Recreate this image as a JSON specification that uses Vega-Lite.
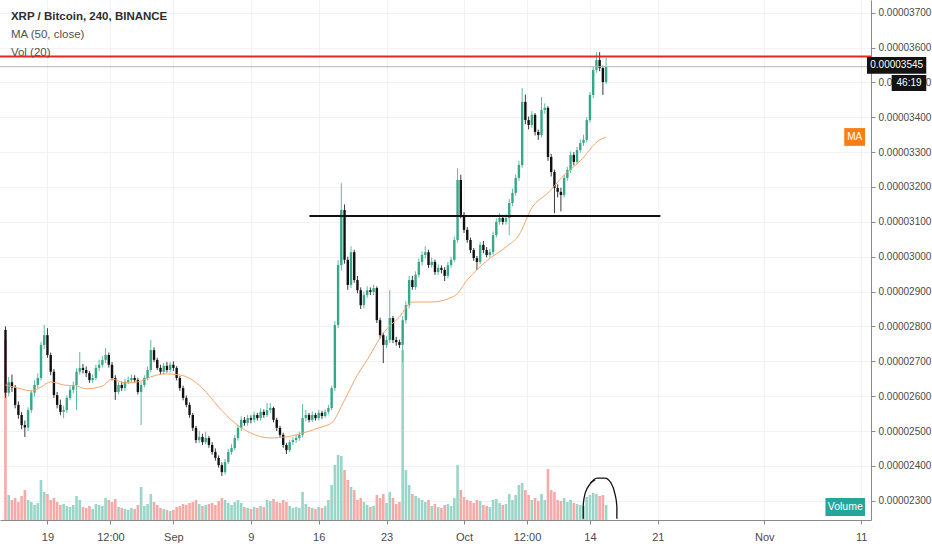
{
  "$schema": "https://vega.github.io/schema/vega-lite/v6.json",
  "description": "XRP / Bitcoin, 240, BINANCE",
  "width": 871,
  "height": 520,
  "autosize": {"type": "none"},
  "padding": {"left": 0, "top": 0, "right": 61, "bottom": 30},
  "background": "#ffffff",
  "config": {
    "view": {"stroke": null},
    "axis": {
      "labelFont": "Liberation Sans, Arial, sans-serif",
      "labelFontSize": 10,
      "labelColor": "#4a4a4a",
      "domainColor": "#8a8a8a",
      "tickColor": "#8a8a8a",
      "tickSize": 4,
      "gridColor": "#f1f2f4",
      "labelOverlap": false,
      "labelFlush": false
    },
    "text": {"font": "Liberation Sans, Arial, sans-serif"}
  },
  "data": {
    "values": [
      {"t":"2019-08-14T16:00Z","o":2790,"h":2800,"l":2595,"c":2610,"v":1800},
      {"t":"2019-08-15T00:00Z","o":2610,"h":2655,"l":2600,"c":2640,"v":250},
      {"t":"2019-08-15T08:00Z","o":2640,"h":2662,"l":2612,"c":2625,"v":200},
      {"t":"2019-08-15T16:00Z","o":2625,"h":2632,"l":2565,"c":2575,"v":220},
      {"t":"2019-08-16T00:00Z","o":2575,"h":2585,"l":2535,"c":2546,"v":180},
      {"t":"2019-08-16T08:00Z","o":2546,"h":2555,"l":2505,"c":2517,"v":240},
      {"t":"2019-08-16T16:00Z","o":2517,"h":2530,"l":2483,"c":2510,"v":300},
      {"t":"2019-08-17T00:00Z","o":2510,"h":2568,"l":2500,"c":2560,"v":200},
      {"t":"2019-08-17T08:00Z","o":2560,"h":2618,"l":2552,"c":2610,"v":180},
      {"t":"2019-08-17T16:00Z","o":2610,"h":2645,"l":2600,"c":2632,"v":150},
      {"t":"2019-08-18T00:00Z","o":2632,"h":2665,"l":2622,"c":2652,"v":170},
      {"t":"2019-08-18T08:00Z","o":2652,"h":2755,"l":2645,"c":2747,"v":400},
      {"t":"2019-08-18T16:00Z","o":2747,"h":2804,"l":2735,"c":2775,"v":280},
      {"t":"2019-08-19T00:00Z","o":2775,"h":2795,"l":2710,"c":2718,"v":260},
      {"t":"2019-08-19T08:00Z","o":2718,"h":2725,"l":2660,"c":2670,"v":200},
      {"t":"2019-08-19T16:00Z","o":2670,"h":2678,"l":2595,"c":2603,"v":220},
      {"t":"2019-08-20T00:00Z","o":2603,"h":2612,"l":2565,"c":2575,"v":180},
      {"t":"2019-08-20T08:00Z","o":2575,"h":2590,"l":2545,"c":2555,"v":150},
      {"t":"2019-08-20T16:00Z","o":2555,"h":2572,"l":2537,"c":2560,"v":160},
      {"t":"2019-08-21T00:00Z","o":2560,"h":2602,"l":2552,"c":2595,"v":140},
      {"t":"2019-08-21T08:00Z","o":2595,"h":2628,"l":2588,"c":2618,"v":130},
      {"t":"2019-08-21T16:00Z","o":2618,"h":2642,"l":2608,"c":2632,"v":150},
      {"t":"2019-08-22T00:00Z","o":2632,"h":2680,"l":2560,"c":2670,"v":240},
      {"t":"2019-08-22T08:00Z","o":2670,"h":2727,"l":2662,"c":2681,"v":200},
      {"t":"2019-08-22T16:00Z","o":2681,"h":2692,"l":2665,"c":2675,"v":130},
      {"t":"2019-08-23T00:00Z","o":2675,"h":2685,"l":2655,"c":2666,"v":120},
      {"t":"2019-08-23T08:00Z","o":2666,"h":2672,"l":2638,"c":2646,"v":140},
      {"t":"2019-08-23T16:00Z","o":2646,"h":2662,"l":2638,"c":2652,"v":110},
      {"t":"2019-08-24T00:00Z","o":2652,"h":2690,"l":2645,"c":2681,"v":160},
      {"t":"2019-08-24T08:00Z","o":2681,"h":2705,"l":2672,"c":2690,"v":150},
      {"t":"2019-08-24T16:00Z","o":2690,"h":2715,"l":2682,"c":2704,"v":140},
      {"t":"2019-08-25T00:00Z","o":2704,"h":2738,"l":2695,"c":2718,"v":220},
      {"t":"2019-08-25T08:00Z","o":2718,"h":2725,"l":2682,"c":2690,"v":200},
      {"t":"2019-08-25T16:00Z","o":2690,"h":2698,"l":2645,"c":2652,"v":180},
      {"t":"2019-08-26T00:00Z","o":2652,"h":2660,"l":2589,"c":2612,"v":210},
      {"t":"2019-08-26T08:00Z","o":2612,"h":2640,"l":2605,"c":2632,"v":130},
      {"t":"2019-08-26T16:00Z","o":2632,"h":2642,"l":2615,"c":2623,"v":120},
      {"t":"2019-08-27T00:00Z","o":2623,"h":2650,"l":2615,"c":2641,"v":110},
      {"t":"2019-08-27T08:00Z","o":2641,"h":2656,"l":2635,"c":2646,"v":100},
      {"t":"2019-08-27T16:00Z","o":2646,"h":2662,"l":2640,"c":2652,"v":120},
      {"t":"2019-08-28T00:00Z","o":2652,"h":2660,"l":2638,"c":2646,"v":110},
      {"t":"2019-08-28T08:00Z","o":2646,"h":2652,"l":2605,"c":2612,"v":150},
      {"t":"2019-08-28T16:00Z","o":2612,"h":2640,"l":2517,"c":2632,"v":330},
      {"t":"2019-08-29T00:00Z","o":2632,"h":2660,"l":2625,"c":2652,"v":140},
      {"t":"2019-08-29T08:00Z","o":2652,"h":2685,"l":2645,"c":2675,"v":160},
      {"t":"2019-08-29T16:00Z","o":2675,"h":2761,"l":2668,"c":2732,"v":260},
      {"t":"2019-08-30T00:00Z","o":2732,"h":2740,"l":2698,"c":2704,"v":180},
      {"t":"2019-08-30T08:00Z","o":2704,"h":2710,"l":2675,"c":2681,"v":150},
      {"t":"2019-08-30T16:00Z","o":2681,"h":2690,"l":2662,"c":2670,"v":120},
      {"t":"2019-08-31T00:00Z","o":2670,"h":2695,"l":2662,"c":2687,"v":110},
      {"t":"2019-08-31T08:00Z","o":2687,"h":2698,"l":2668,"c":2675,"v":100},
      {"t":"2019-08-31T16:00Z","o":2675,"h":2698,"l":2668,"c":2690,"v":90},
      {"t":"2019-09-01T00:00Z","o":2690,"h":2700,"l":2672,"c":2681,"v":100},
      {"t":"2019-09-01T08:00Z","o":2681,"h":2686,"l":2645,"c":2652,"v":130},
      {"t":"2019-09-01T16:00Z","o":2652,"h":2658,"l":2615,"c":2623,"v":140},
      {"t":"2019-09-02T00:00Z","o":2623,"h":2630,"l":2588,"c":2595,"v":160},
      {"t":"2019-09-02T08:00Z","o":2595,"h":2602,"l":2568,"c":2575,"v":150},
      {"t":"2019-09-02T16:00Z","o":2575,"h":2582,"l":2538,"c":2546,"v":170},
      {"t":"2019-09-03T00:00Z","o":2546,"h":2552,"l":2500,"c":2509,"v":180},
      {"t":"2019-09-03T08:00Z","o":2509,"h":2515,"l":2465,"c":2474,"v":200},
      {"t":"2019-09-03T16:00Z","o":2474,"h":2500,"l":2466,"c":2483,"v":160},
      {"t":"2019-09-04T00:00Z","o":2483,"h":2492,"l":2460,"c":2468,"v":140},
      {"t":"2019-09-04T08:00Z","o":2468,"h":2498,"l":2462,"c":2480,"v":150},
      {"t":"2019-09-04T16:00Z","o":2480,"h":2486,"l":2452,"c":2460,"v":160},
      {"t":"2019-09-05T00:00Z","o":2460,"h":2468,"l":2432,"c":2440,"v":170},
      {"t":"2019-09-05T08:00Z","o":2440,"h":2450,"l":2415,"c":2423,"v":150},
      {"t":"2019-09-05T16:00Z","o":2423,"h":2430,"l":2395,"c":2402,"v":190},
      {"t":"2019-09-06T00:00Z","o":2402,"h":2410,"l":2371,"c":2382,"v":220},
      {"t":"2019-09-06T08:00Z","o":2382,"h":2420,"l":2375,"c":2411,"v":200},
      {"t":"2019-09-06T16:00Z","o":2411,"h":2448,"l":2405,"c":2440,"v":170},
      {"t":"2019-09-07T00:00Z","o":2440,"h":2462,"l":2432,"c":2451,"v":150},
      {"t":"2019-09-07T08:00Z","o":2451,"h":2488,"l":2445,"c":2480,"v":180},
      {"t":"2019-09-07T16:00Z","o":2480,"h":2518,"l":2472,"c":2509,"v":200},
      {"t":"2019-09-08T00:00Z","o":2509,"h":2542,"l":2500,"c":2532,"v":170},
      {"t":"2019-09-08T08:00Z","o":2532,"h":2540,"l":2515,"c":2523,"v":130},
      {"t":"2019-09-08T16:00Z","o":2523,"h":2546,"l":2515,"c":2537,"v":120},
      {"t":"2019-09-09T00:00Z","o":2537,"h":2545,"l":2522,"c":2532,"v":110},
      {"t":"2019-09-09T08:00Z","o":2532,"h":2556,"l":2525,"c":2546,"v":130},
      {"t":"2019-09-09T16:00Z","o":2546,"h":2552,"l":2530,"c":2537,"v":120},
      {"t":"2019-09-10T00:00Z","o":2537,"h":2565,"l":2530,"c":2555,"v":140},
      {"t":"2019-09-10T08:00Z","o":2555,"h":2562,"l":2538,"c":2546,"v":130},
      {"t":"2019-09-10T16:00Z","o":2546,"h":2580,"l":2540,"c":2560,"v":200},
      {"t":"2019-09-11T00:00Z","o":2560,"h":2580,"l":2552,"c":2566,"v":190},
      {"t":"2019-09-11T08:00Z","o":2566,"h":2570,"l":2525,"c":2532,"v":210},
      {"t":"2019-09-11T16:00Z","o":2532,"h":2538,"l":2500,"c":2509,"v":180},
      {"t":"2019-09-12T00:00Z","o":2509,"h":2515,"l":2480,"c":2489,"v":170},
      {"t":"2019-09-12T08:00Z","o":2489,"h":2495,"l":2452,"c":2460,"v":200},
      {"t":"2019-09-12T16:00Z","o":2460,"h":2466,"l":2434,"c":2445,"v":180},
      {"t":"2019-09-13T00:00Z","o":2445,"h":2475,"l":2440,"c":2468,"v":140},
      {"t":"2019-09-13T08:00Z","o":2468,"h":2482,"l":2460,"c":2474,"v":120},
      {"t":"2019-09-13T16:00Z","o":2474,"h":2490,"l":2466,"c":2480,"v":130},
      {"t":"2019-09-14T00:00Z","o":2480,"h":2498,"l":2472,"c":2489,"v":120},
      {"t":"2019-09-14T08:00Z","o":2489,"h":2577,"l":2482,"c":2537,"v":280},
      {"t":"2019-09-14T16:00Z","o":2537,"h":2560,"l":2528,"c":2546,"v":160},
      {"t":"2019-09-15T00:00Z","o":2546,"h":2552,"l":2525,"c":2532,"v":130},
      {"t":"2019-09-15T08:00Z","o":2532,"h":2556,"l":2525,"c":2546,"v":120},
      {"t":"2019-09-15T16:00Z","o":2546,"h":2552,"l":2530,"c":2537,"v":110},
      {"t":"2019-09-16T00:00Z","o":2537,"h":2560,"l":2530,"c":2552,"v":130},
      {"t":"2019-09-16T08:00Z","o":2552,"h":2558,"l":2535,"c":2543,"v":120},
      {"t":"2019-09-16T16:00Z","o":2543,"h":2562,"l":2538,"c":2555,"v":140},
      {"t":"2019-09-17T00:00Z","o":2555,"h":2575,"l":2548,"c":2566,"v":200},
      {"t":"2019-09-17T08:00Z","o":2566,"h":2630,"l":2560,"c":2623,"v":350},
      {"t":"2019-09-17T16:00Z","o":2623,"h":2815,"l":2615,"c":2804,"v":550},
      {"t":"2019-09-18T00:00Z","o":2804,"h":2990,"l":2795,"c":2976,"v":650},
      {"t":"2019-09-18T08:00Z","o":2976,"h":3211,"l":2960,"c":3134,"v":640},
      {"t":"2019-09-18T16:00Z","o":3134,"h":3150,"l":2980,"c":2991,"v":500},
      {"t":"2019-09-19T00:00Z","o":2991,"h":3000,"l":2905,"c":2919,"v":400},
      {"t":"2019-09-19T08:00Z","o":2919,"h":3030,"l":2910,"c":3013,"v":330},
      {"t":"2019-09-19T16:00Z","o":3013,"h":3020,"l":2925,"c":2933,"v":300},
      {"t":"2019-09-20T00:00Z","o":2933,"h":2945,"l":2895,"c":2904,"v":200},
      {"t":"2019-09-20T08:00Z","o":2904,"h":2912,"l":2850,"c":2861,"v":220},
      {"t":"2019-09-20T16:00Z","o":2861,"h":2900,"l":2852,"c":2890,"v":180},
      {"t":"2019-09-21T00:00Z","o":2890,"h":2915,"l":2882,"c":2904,"v":150},
      {"t":"2019-09-21T08:00Z","o":2904,"h":2912,"l":2890,"c":2899,"v":130},
      {"t":"2019-09-21T16:00Z","o":2899,"h":2920,"l":2890,"c":2910,"v":140},
      {"t":"2019-09-22T00:00Z","o":2910,"h":2915,"l":2810,"c":2818,"v":250},
      {"t":"2019-09-22T08:00Z","o":2818,"h":2825,"l":2765,"c":2775,"v":220},
      {"t":"2019-09-22T16:00Z","o":2775,"h":2782,"l":2695,"c":2747,"v":260},
      {"t":"2019-09-23T00:00Z","o":2747,"h":2772,"l":2738,"c":2761,"v":170},
      {"t":"2019-09-23T08:00Z","o":2761,"h":2904,"l":2752,"c":2824,"v":280},
      {"t":"2019-09-23T16:00Z","o":2824,"h":2830,"l":2752,"c":2761,"v":220},
      {"t":"2019-09-24T00:00Z","o":2761,"h":2770,"l":2745,"c":2755,"v":160},
      {"t":"2019-09-24T08:00Z","o":2755,"h":2762,"l":2738,"c":2747,"v":180},
      {"t":"2019-09-24T16:00Z","o":2747,"h":2830,"l":2698,"c":2818,"v":1700},
      {"t":"2019-09-25T00:00Z","o":2818,"h":2872,"l":2808,"c":2861,"v":500},
      {"t":"2019-09-25T08:00Z","o":2861,"h":2945,"l":2852,"c":2933,"v":350},
      {"t":"2019-09-25T16:00Z","o":2933,"h":2945,"l":2905,"c":2913,"v":260},
      {"t":"2019-09-26T00:00Z","o":2913,"h":2958,"l":2905,"c":2948,"v":240},
      {"t":"2019-09-26T08:00Z","o":2948,"h":2995,"l":2940,"c":2985,"v":220},
      {"t":"2019-09-26T16:00Z","o":2985,"h":3015,"l":2975,"c":3005,"v":200},
      {"t":"2019-09-27T00:00Z","o":3005,"h":3030,"l":2995,"c":3013,"v":180},
      {"t":"2019-09-27T08:00Z","o":3013,"h":3020,"l":2968,"c":2976,"v":200},
      {"t":"2019-09-27T16:00Z","o":2976,"h":2998,"l":2968,"c":2985,"v":140},
      {"t":"2019-09-28T00:00Z","o":2985,"h":2992,"l":2948,"c":2956,"v":160},
      {"t":"2019-09-28T08:00Z","o":2956,"h":2978,"l":2948,"c":2968,"v":130},
      {"t":"2019-09-28T16:00Z","o":2968,"h":2975,"l":2952,"c":2962,"v":120},
      {"t":"2019-09-29T00:00Z","o":2962,"h":2970,"l":2930,"c":2945,"v":150},
      {"t":"2019-09-29T08:00Z","o":2945,"h":2985,"l":2938,"c":2976,"v":160},
      {"t":"2019-09-29T16:00Z","o":2976,"h":3000,"l":2968,"c":2991,"v":140},
      {"t":"2019-09-30T00:00Z","o":2991,"h":3058,"l":2985,"c":3048,"v":220},
      {"t":"2019-09-30T08:00Z","o":3048,"h":3254,"l":3040,"c":3220,"v":550},
      {"t":"2019-09-30T16:00Z","o":3220,"h":3235,"l":3110,"c":3120,"v":300},
      {"t":"2019-10-01T00:00Z","o":3120,"h":3128,"l":3068,"c":3077,"v":230},
      {"t":"2019-10-01T08:00Z","o":3077,"h":3085,"l":3040,"c":3048,"v":200},
      {"t":"2019-10-01T16:00Z","o":3048,"h":3055,"l":3010,"c":3019,"v":190},
      {"t":"2019-10-02T00:00Z","o":3019,"h":3025,"l":2988,"c":2996,"v":170},
      {"t":"2019-10-02T08:00Z","o":2996,"h":3002,"l":2962,"c":2985,"v":200},
      {"t":"2019-10-02T16:00Z","o":2985,"h":3042,"l":2978,"c":3034,"v":190},
      {"t":"2019-10-03T00:00Z","o":3034,"h":3045,"l":3010,"c":3019,"v":150},
      {"t":"2019-10-03T08:00Z","o":3019,"h":3028,"l":2998,"c":3005,"v":140},
      {"t":"2019-10-03T16:00Z","o":3005,"h":3022,"l":2998,"c":3013,"v":130},
      {"t":"2019-10-04T00:00Z","o":3013,"h":3072,"l":3005,"c":3062,"v":200},
      {"t":"2019-10-04T08:00Z","o":3062,"h":3110,"l":3055,"c":3100,"v":210},
      {"t":"2019-10-04T16:00Z","o":3100,"h":3125,"l":3092,"c":3111,"v":170},
      {"t":"2019-10-05T00:00Z","o":3111,"h":3120,"l":3092,"c":3100,"v":150},
      {"t":"2019-10-05T08:00Z","o":3100,"h":3122,"l":3092,"c":3111,"v":160},
      {"t":"2019-10-05T16:00Z","o":3111,"h":3165,"l":3062,"c":3154,"v":260},
      {"t":"2019-10-06T00:00Z","o":3154,"h":3195,"l":3145,"c":3183,"v":200},
      {"t":"2019-10-06T08:00Z","o":3183,"h":3236,"l":3175,"c":3226,"v":250},
      {"t":"2019-10-06T16:00Z","o":3226,"h":3275,"l":3218,"c":3263,"v":350},
      {"t":"2019-10-07T00:00Z","o":3263,"h":3484,"l":3255,"c":3444,"v":370},
      {"t":"2019-10-07T08:00Z","o":3444,"h":3465,"l":3380,"c":3392,"v":300},
      {"t":"2019-10-07T16:00Z","o":3392,"h":3402,"l":3365,"c":3378,"v":250},
      {"t":"2019-10-08T00:00Z","o":3378,"h":3418,"l":3370,"c":3407,"v":200},
      {"t":"2019-10-08T08:00Z","o":3407,"h":3412,"l":3348,"c":3358,"v":220},
      {"t":"2019-10-08T16:00Z","o":3358,"h":3365,"l":3335,"c":3349,"v":190},
      {"t":"2019-10-09T00:00Z","o":3349,"h":3458,"l":3342,"c":3421,"v":260},
      {"t":"2019-10-09T08:00Z","o":3421,"h":3440,"l":3410,"c":3427,"v":200},
      {"t":"2019-10-09T16:00Z","o":3427,"h":3432,"l":3275,"c":3286,"v":510},
      {"t":"2019-10-10T00:00Z","o":3286,"h":3295,"l":3230,"c":3243,"v":300},
      {"t":"2019-10-10T08:00Z","o":3243,"h":3250,"l":3125,"c":3197,"v":280},
      {"t":"2019-10-10T16:00Z","o":3197,"h":3208,"l":3170,"c":3186,"v":200},
      {"t":"2019-10-11T00:00Z","o":3186,"h":3198,"l":3130,"c":3177,"v":190},
      {"t":"2019-10-11T08:00Z","o":3177,"h":3235,"l":3170,"c":3226,"v":220},
      {"t":"2019-10-11T16:00Z","o":3226,"h":3258,"l":3218,"c":3249,"v":180},
      {"t":"2019-10-12T00:00Z","o":3249,"h":3302,"l":3240,"c":3292,"v":200},
      {"t":"2019-10-12T08:00Z","o":3292,"h":3300,"l":3262,"c":3272,"v":170},
      {"t":"2019-10-12T16:00Z","o":3272,"h":3315,"l":3265,"c":3306,"v":160},
      {"t":"2019-10-13T00:00Z","o":3306,"h":3336,"l":3298,"c":3326,"v":150},
      {"t":"2019-10-13T08:00Z","o":3326,"h":3350,"l":3318,"c":3335,"v":140},
      {"t":"2019-10-13T16:00Z","o":3335,"h":3400,"l":3328,"c":3392,"v":230},
      {"t":"2019-10-14T00:00Z","o":3392,"h":3472,"l":3385,"c":3464,"v":250},
      {"t":"2019-10-14T08:00Z","o":3464,"h":3545,"l":3455,"c":3536,"v":270},
      {"t":"2019-10-14T16:00Z","o":3536,"h":3587,"l":3528,"c":3564,"v":260},
      {"t":"2019-10-15T00:00Z","o":3564,"h":3587,"l":3532,"c":3541,"v":240},
      {"t":"2019-10-15T08:00Z","o":3541,"h":3548,"l":3464,"c":3501,"v":250},
      {"t":"2019-10-15T16:00Z","o":3501,"h":3570,"l":3495,"c":3545,"v":150}
    ]
  },
  "layer": [
    {
      "mark": {"type": "bar", "width": 2.6},
      "encoding": {
        "x": {
          "field": "t",
          "type": "temporal",
          "title": null,
          "scale": {"type": "utc", "domain": [{"year": 2019, "month": 8, "date": 14, "hours": 14, "minutes": 48, "utc": true}, {"year": 2019, "month": 11, "date": 11, "hours": 11, "minutes": 52, "utc": true}]},
          "axis": {
            "grid": true,
            "labelPadding": 7,
            "labelOverlap": false,
            "labelFontSize": 11,
            "tickCount": 30,
            "values": [
              {"year": 2019, "month": 8, "date": 19, "utc": true},
              {"year": 2019, "month": 8, "date": 25, "hours": 12, "utc": true},
              {"year": 2019, "month": 9, "date": 1, "utc": true},
              {"year": 2019, "month": 9, "date": 9, "utc": true},
              {"year": 2019, "month": 9, "date": 16, "utc": true},
              {"year": 2019, "month": 9, "date": 23, "utc": true},
              {"year": 2019, "month": 10, "date": 1, "utc": true},
              {"year": 2019, "month": 10, "date": 7, "hours": 12, "utc": true},
              {"year": 2019, "month": 10, "date": 14, "utc": true},
              {"year": 2019, "month": 10, "date": 21, "utc": true},
              {"year": 2019, "month": 11, "date": 1, "utc": true},
              {"year": 2019, "month": 11, "date": 11, "utc": true}
            ],
            "labelExpr": "utchours(datum.value) == 12 ? '12:00' : (utcdate(datum.value) == 1 ? utcFormat(datum.value, '%b') : '' + utcdate(datum.value))"
          }
        },
        "y": {"field": "v", "type": "quantitative", "title": null, "scale": {"domain": [0, 5200]}, "axis": null},
        "color": {"condition": {"test": "datum.c >= datum.o", "value": "#9ad5c8"}, "value": "#f6aaa8"}
      }
    },
    {
      "layer": [
        {
          "mark": {"type": "rule", "strokeWidth": 1},
          "encoding": {
            "x": {"field": "t", "type": "temporal", "title": null, "scale": {"type": "utc", "domain": [{"year": 2019, "month": 8, "date": 14, "hours": 14, "minutes": 48, "utc": true}, {"year": 2019, "month": 11, "date": 11, "hours": 11, "minutes": 52, "utc": true}]}},
            "y": {
              "field": "l",
              "type": "quantitative",
              "title": null,
              "scale": {"domain": [2244.7, 3736.4], "zero": false, "nice": false},
              "axis": {
                "orient": "right",
                "grid": true,
                "labelPadding": 3,
                "labelOverlap": false,
                "tickCount": 30,
                "values": [2300, 2400, 2500, 2600, 2700, 2800, 2900, 3000, 3100, 3200, 3300, 3400, 3500, 3600, 3700],
                "labelExpr": "format(datum.value / 100000000, '.8f')"
              }
            },
            "y2": {"field": "h"},
            "color": {"condition": {"test": "datum.c >= datum.o", "value": "#5dbaa0"}, "value": "#3a3a3a"}
          }
        },
        {
          "mark": {"type": "bar", "width": 2.4},
          "encoding": {
            "x": {"field": "t", "type": "temporal", "title": null, "scale": {"type": "utc", "domain": [{"year": 2019, "month": 8, "date": 14, "hours": 14, "minutes": 48, "utc": true}, {"year": 2019, "month": 11, "date": 11, "hours": 11, "minutes": 52, "utc": true}]}},
            "y": {"field": "o", "type": "quantitative", "title": null, "scale": {"domain": [2244.7, 3736.4], "zero": false, "nice": false}},
            "y2": {"field": "c"},
            "color": {"condition": {"test": "datum.c >= datum.o", "value": "#35a78b"}, "value": "#111111"}
          }
        },
        {
          "data": {
            "values": [
              {"t": "2019-08-14T16:00Z", "ma": 2632},
              {"t": "2019-08-16T00:00Z", "ma": 2623},
              {"t": "2019-08-17T08:00Z", "ma": 2615},
              {"t": "2019-08-18T08:00Z", "ma": 2626},
              {"t": "2019-08-19T08:00Z", "ma": 2641},
              {"t": "2019-08-20T16:00Z", "ma": 2632},
              {"t": "2019-08-22T00:00Z", "ma": 2629},
              {"t": "2019-08-23T00:00Z", "ma": 2621},
              {"t": "2019-08-24T16:00Z", "ma": 2629},
              {"t": "2019-08-25T16:00Z", "ma": 2649},
              {"t": "2019-08-27T00:00Z", "ma": 2638},
              {"t": "2019-08-28T08:00Z", "ma": 2641},
              {"t": "2019-08-29T16:00Z", "ma": 2655},
              {"t": "2019-08-31T00:00Z", "ma": 2664},
              {"t": "2019-09-01T16:00Z", "ma": 2661},
              {"t": "2019-09-04T00:00Z", "ma": 2623},
              {"t": "2019-09-05T16:00Z", "ma": 2569},
              {"t": "2019-09-07T08:00Z", "ma": 2523},
              {"t": "2019-09-09T00:00Z", "ma": 2494},
              {"t": "2019-09-11T00:00Z", "ma": 2480},
              {"t": "2019-09-12T16:00Z", "ma": 2483},
              {"t": "2019-09-14T08:00Z", "ma": 2494},
              {"t": "2019-09-16T08:00Z", "ma": 2512},
              {"t": "2019-09-17T08:00Z", "ma": 2523},
              {"t": "2019-09-18T16:00Z", "ma": 2589},
              {"t": "2019-09-20T00:00Z", "ma": 2661},
              {"t": "2019-09-21T00:00Z", "ma": 2704},
              {"t": "2019-09-22T16:00Z", "ma": 2781},
              {"t": "2019-09-24T08:00Z", "ma": 2827},
              {"t": "2019-09-25T16:00Z", "ma": 2870},
              {"t": "2019-09-27T16:00Z", "ma": 2870},
              {"t": "2019-09-30T00:00Z", "ma": 2887},
              {"t": "2019-10-01T08:00Z", "ma": 2933},
              {"t": "2019-10-03T08:00Z", "ma": 2988},
              {"t": "2019-10-05T08:00Z", "ma": 3028},
              {"t": "2019-10-06T16:00Z", "ma": 3062},
              {"t": "2019-10-08T00:00Z", "ma": 3140},
              {"t": "2019-10-09T16:00Z", "ma": 3183},
              {"t": "2019-10-11T08:00Z", "ma": 3234},
              {"t": "2019-10-13T00:00Z", "ma": 3275},
              {"t": "2019-10-15T00:00Z", "ma": 3335},
              {"t": "2019-10-15T16:00Z", "ma": 3343}
            ]
          },
          "mark": {"type": "line", "color": "#f6a46a", "strokeWidth": 1, "interpolate": "monotone"},
          "encoding": {
            "x": {"field": "t", "type": "temporal", "title": null, "scale": {"type": "utc", "domain": [{"year": 2019, "month": 8, "date": 14, "hours": 14, "minutes": 48, "utc": true}, {"year": 2019, "month": 11, "date": 11, "hours": 11, "minutes": 52, "utc": true}]}},
            "y": {"field": "ma", "type": "quantitative", "title": null, "scale": {"domain": [2244.7, 3736.4], "zero": false, "nice": false}}
          }
        },
        {
          "data": {"values": [{}]},
          "mark": {"type": "rule", "color": "#b4b6bb", "strokeWidth": 1},
          "encoding": {
            "y": {"datum": 3545, "type": "quantitative", "title": null, "scale": {"domain": [2244.7, 3736.4], "zero": false, "nice": false}}
          }
        },
        {
          "data": {"values": [{}]},
          "mark": {"type": "rule", "color": "#e8262a", "strokeWidth": 2},
          "encoding": {
            "y": {"datum": 3574, "type": "quantitative", "title": null, "scale": {"domain": [2244.7, 3736.4], "zero": false, "nice": false}}
          }
        },
        {
          "data": {"values": [{}]},
          "mark": {"type": "rule", "color": "#111111", "strokeWidth": 2},
          "encoding": {
            "x": {"datum": {"year": 2019, "month": 9, "date": 15, "hours": 1, "utc": true}, "type": "temporal", "title": null, "scale": {"type": "utc", "domain": [{"year": 2019, "month": 8, "date": 14, "hours": 14, "minutes": 48, "utc": true}, {"year": 2019, "month": 11, "date": 11, "hours": 11, "minutes": 52, "utc": true}]}},
            "x2": {"datum": {"year": 2019, "month": 10, "date": 21, "hours": 6, "minutes": 30, "utc": true}},
            "y": {"datum": 3117, "type": "quantitative", "title": null, "scale": {"domain": [2244.7, 3736.4], "zero": false, "nice": false}}
          }
        },
        {
          "data": {
            "values": [
              {"g": "a", "n": 1, "t": "2019-10-13T07:20Z", "p": 2248},
              {"g": "a", "n": 2, "t": "2019-10-13T07:20Z", "p": 2288},
              {"g": "a", "n": 3, "t": "2019-10-13T12:10Z", "p": 2322},
              {"g": "a", "n": 4, "t": "2019-10-14T00:30Z", "p": 2348},
              {"g": "a", "n": 5, "t": "2019-10-14T17:40Z", "p": 2365},
              {"g": "a", "n": 6, "t": "2019-10-15T13:10Z", "p": 2365},
              {"g": "a", "n": 7, "t": "2019-10-16T04:00Z", "p": 2351},
              {"g": "a", "n": 8, "t": "2019-10-16T13:50Z", "p": 2320},
              {"g": "a", "n": 9, "t": "2019-10-16T18:40Z", "p": 2285},
              {"g": "a", "n": 10, "t": "2019-10-16T18:40Z", "p": 2248},
              {"g": "b", "n": 1, "t": "2019-10-14T00:30Z", "p": 2351},
              {"g": "b", "n": 2, "t": "2019-10-14T12:45Z", "p": 2360}
            ]
          },
          "mark": {"type": "line", "color": "#111111", "strokeWidth": 1.3, "interpolate": "monotone"},
          "encoding": {
            "x": {"field": "t", "type": "temporal", "title": null, "scale": {"type": "utc", "domain": [{"year": 2019, "month": 8, "date": 14, "hours": 14, "minutes": 48, "utc": true}, {"year": 2019, "month": 11, "date": 11, "hours": 11, "minutes": 52, "utc": true}]}},
            "y": {"field": "p", "type": "quantitative", "title": null, "scale": {"domain": [2244.7, 3736.4], "zero": false, "nice": false}},
            "detail": {"field": "g"},
            "order": {"field": "n"}
          }
        },
        {
          "data": {"values": [{}]},
          "mark": {"type": "rect", "color": "#f57f17"},
          "encoding": {
            "x": {"datum": {"year": 2019, "month": 11, "date": 9, "hours": 6, "utc": true}, "type": "temporal", "title": null, "scale": {"type": "utc", "domain": [{"year": 2019, "month": 8, "date": 14, "hours": 14, "minutes": 48, "utc": true}, {"year": 2019, "month": 11, "date": 11, "hours": 11, "minutes": 52, "utc": true}]}},
            "x2": {"datum": {"year": 2019, "month": 11, "date": 11, "hours": 9, "minutes": 30, "utc": true}},
            "y": {"datum": 3369, "type": "quantitative", "title": null, "scale": {"domain": [2244.7, 3736.4], "zero": false, "nice": false}},
            "y2": {"datum": 3318}
          }
        },
        {
          "data": {"values": [{}]},
          "mark": {"type": "text", "color": "#ffffff", "fontSize": 10, "text": "MA", "align": "center", "baseline": "middle"},
          "encoding": {
            "x": {"datum": {"year": 2019, "month": 11, "date": 10, "hours": 8, "utc": true}, "type": "temporal", "title": null, "scale": {"type": "utc", "domain": [{"year": 2019, "month": 8, "date": 14, "hours": 14, "minutes": 48, "utc": true}, {"year": 2019, "month": 11, "date": 11, "hours": 11, "minutes": 52, "utc": true}]}},
            "y": {"datum": 3343, "type": "quantitative", "title": null, "scale": {"domain": [2244.7, 3736.4], "zero": false, "nice": false}}
          }
        },
        {
          "data": {"values": [{}]},
          "mark": {"type": "rect", "color": "#26a69a"},
          "encoding": {
            "x": {"datum": {"year": 2019, "month": 11, "date": 7, "hours": 7, "minutes": 25, "utc": true}, "type": "temporal", "title": null, "scale": {"type": "utc", "domain": [{"year": 2019, "month": 8, "date": 14, "hours": 14, "minutes": 48, "utc": true}, {"year": 2019, "month": 11, "date": 11, "hours": 11, "minutes": 52, "utc": true}]}},
            "x2": {"datum": {"year": 2019, "month": 11, "date": 11, "hours": 9, "minutes": 30, "utc": true}},
            "y": {"datum": 2308, "type": "quantitative", "title": null, "scale": {"domain": [2244.7, 3736.4], "zero": false, "nice": false}},
            "y2": {"datum": 2256}
          }
        },
        {
          "data": {"values": [{}]},
          "mark": {"type": "text", "color": "#ffffff", "fontSize": 10.5, "text": "Volume", "align": "center", "baseline": "middle"},
          "encoding": {
            "x": {"datum": {"year": 2019, "month": 11, "date": 9, "hours": 8, "minutes": 30, "utc": true}, "type": "temporal", "title": null, "scale": {"type": "utc", "domain": [{"year": 2019, "month": 8, "date": 14, "hours": 14, "minutes": 48, "utc": true}, {"year": 2019, "month": 11, "date": 11, "hours": 11, "minutes": 52, "utc": true}]}},
            "y": {"datum": 2282, "type": "quantitative", "title": null, "scale": {"domain": [2244.7, 3736.4], "zero": false, "nice": false}}
          }
        },
        {
          "data": {"values": [{}]},
          "mark": {"type": "rect", "color": "#131313"},
          "encoding": {
            "x": {"datum": {"year": 2019, "month": 11, "date": 11, "hours": 14, "minutes": 15, "utc": true}, "type": "temporal", "title": null, "scale": {"type": "utc", "domain": [{"year": 2019, "month": 8, "date": 14, "hours": 14, "minutes": 48, "utc": true}, {"year": 2019, "month": 11, "date": 11, "hours": 11, "minutes": 52, "utc": true}]}},
            "x2": {"datum": {"year": 2019, "month": 11, "date": 17, "hours": 17, "minutes": 10, "utc": true}},
            "y": {"datum": 3573, "type": "quantitative", "title": null, "scale": {"domain": [2244.7, 3736.4], "zero": false, "nice": false}},
            "y2": {"datum": 3525}
          }
        },
        {
          "data": {"values": [{}]},
          "mark": {"type": "text", "color": "#ffffff", "fontSize": 10, "text": "0.00003545", "align": "center", "baseline": "middle"},
          "encoding": {
            "x": {"datum": {"year": 2019, "month": 11, "date": 14, "hours": 15, "minutes": 48, "utc": true}, "type": "temporal", "title": null, "scale": {"type": "utc", "domain": [{"year": 2019, "month": 8, "date": 14, "hours": 14, "minutes": 48, "utc": true}, {"year": 2019, "month": 11, "date": 11, "hours": 11, "minutes": 52, "utc": true}]}},
            "y": {"datum": 3549, "type": "quantitative", "title": null, "scale": {"domain": [2244.7, 3736.4], "zero": false, "nice": false}}
          }
        },
        {
          "data": {"values": [{}]},
          "mark": {"type": "rect", "color": "#131313"},
          "encoding": {
            "x": {"datum": {"year": 2019, "month": 11, "date": 14, "hours": 3, "minutes": 30, "utc": true}, "type": "temporal", "title": null, "scale": {"type": "utc", "domain": [{"year": 2019, "month": 8, "date": 14, "hours": 14, "minutes": 48, "utc": true}, {"year": 2019, "month": 11, "date": 11, "hours": 11, "minutes": 52, "utc": true}]}},
            "x2": {"datum": {"year": 2019, "month": 11, "date": 17, "hours": 17, "minutes": 10, "utc": true}},
            "y": {"datum": 3521, "type": "quantitative", "title": null, "scale": {"domain": [2244.7, 3736.4], "zero": false, "nice": false}},
            "y2": {"datum": 3475}
          }
        },
        {
          "data": {"values": [{}]},
          "mark": {"type": "text", "color": "#ffffff", "fontSize": 10, "text": "46:19", "align": "center", "baseline": "middle"},
          "encoding": {
            "x": {"datum": {"year": 2019, "month": 11, "date": 15, "hours": 22, "minutes": 30, "utc": true}, "type": "temporal", "title": null, "scale": {"type": "utc", "domain": [{"year": 2019, "month": 8, "date": 14, "hours": 14, "minutes": 48, "utc": true}, {"year": 2019, "month": 11, "date": 11, "hours": 11, "minutes": 52, "utc": true}]}},
            "y": {"datum": 3498, "type": "quantitative", "title": null, "scale": {"domain": [2244.7, 3736.4], "zero": false, "nice": false}}
          }
        },
        {
          "data": {"values": [{}]},
          "mark": {"type": "text", "color": "#2e2e2e", "fontSize": 11.5, "fontWeight": "bold", "text": "XRP / Bitcoin, 240, BINANCE", "align": "left", "baseline": "middle"},
          "encoding": {
            "x": {"datum": {"year": 2019, "month": 8, "date": 15, "hours": 5, "minutes": 30, "utc": true}, "type": "temporal", "title": null, "scale": {"type": "utc", "domain": [{"year": 2019, "month": 8, "date": 14, "hours": 14, "minutes": 48, "utc": true}, {"year": 2019, "month": 11, "date": 11, "hours": 11, "minutes": 52, "utc": true}]}},
            "y": {"datum": 3688, "type": "quantitative", "title": null, "scale": {"domain": [2244.7, 3736.4], "zero": false, "nice": false}}
          }
        },
        {
          "data": {"values": [{}]},
          "mark": {"type": "text", "color": "#505050", "fontSize": 11.5, "text": "MA (50, close)", "align": "left", "baseline": "middle"},
          "encoding": {
            "x": {"datum": {"year": 2019, "month": 8, "date": 15, "hours": 5, "minutes": 30, "utc": true}, "type": "temporal", "title": null, "scale": {"type": "utc", "domain": [{"year": 2019, "month": 8, "date": 14, "hours": 14, "minutes": 48, "utc": true}, {"year": 2019, "month": 11, "date": 11, "hours": 11, "minutes": 52, "utc": true}]}},
            "y": {"datum": 3636, "type": "quantitative", "title": null, "scale": {"domain": [2244.7, 3736.4], "zero": false, "nice": false}}
          }
        },
        {
          "data": {"values": [{}]},
          "mark": {"type": "text", "color": "#505050", "fontSize": 11.5, "text": "Vol (20)", "align": "left", "baseline": "middle"},
          "encoding": {
            "x": {"datum": {"year": 2019, "month": 8, "date": 15, "hours": 5, "minutes": 30, "utc": true}, "type": "temporal", "title": null, "scale": {"type": "utc", "domain": [{"year": 2019, "month": 8, "date": 14, "hours": 14, "minutes": 48, "utc": true}, {"year": 2019, "month": 11, "date": 11, "hours": 11, "minutes": 52, "utc": true}]}},
            "y": {"datum": 3584, "type": "quantitative", "title": null, "scale": {"domain": [2244.7, 3736.4], "zero": false, "nice": false}}
          }
        }
      ]
    }
  ],
  "resolve": {"scale": {"y": "independent"}}
}
